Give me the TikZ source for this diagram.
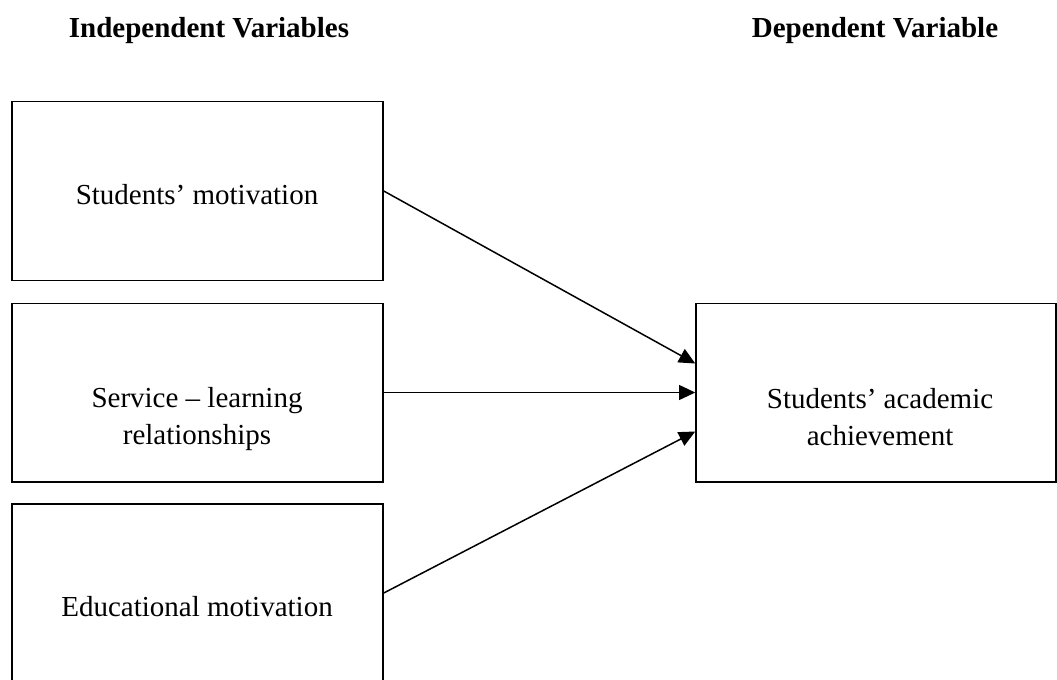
\documentclass[tikz,border=0pt]{standalone}
\usepackage{fontspec}
\setmainfont{Liberation Serif}
\usetikzlibrary{arrows.meta}

\tikzset{
  varbox/.style={draw, line width=0.6pt, minimum width=148.4pt, minimum height=71.4pt, inner sep=0pt},
  vartext/.style={align=center, font=\fontsize{11.6}{15}\selectfont},
  headtext/.style={anchor=base, font=\fontsize{11.6}{15}\selectfont\bfseries},
  link/.style={-{Triangle[length=6.5pt,width=6pt]}, line width=0.6pt}
}

\begin{document}
\begin{tikzpicture}[x=0.4pt, y=-0.4pt]
  \useasboundingbox (0,0) rectangle (1057,679);

  % Titulos
  \node[headtext] (hind) at (209,38) {Independent Variables};
  \node[headtext] (hdep) at (875,38) {Dependent Variable};

  % Cajas: variables independientes
  \node[varbox] (iv1) at (197.5,191) {};
  \node[varbox] (iv2) at (197.5,392.5) {};
  \node[varbox] (iv3) at (197.5,593) {};

  % Caja: variable dependiente
  \node[varbox, minimum width=144pt] (dv) at (876,392.5) {};

  % Textos de las cajas
  \node[vartext] (tiv1) at (197,194.5) {Students’ motivation};
  \node[vartext] (tiv2) at (197,419) {Service – learning\\relationships};
  \node[vartext] (tiv3) at (197,607) {Educational motivation};
  \node[vartext] (tdv) at (880,417) {Students’ academic\\achievement};

  % Flechas
  \draw[link] (iv1.east) -- ([yshift=11.6pt]dv.west);
  \draw[link] (iv2.east) -- (dv.west);
  \draw[link] (iv3.east) -- ([yshift=-15.6pt]dv.west);
\end{tikzpicture}
\end{document}
